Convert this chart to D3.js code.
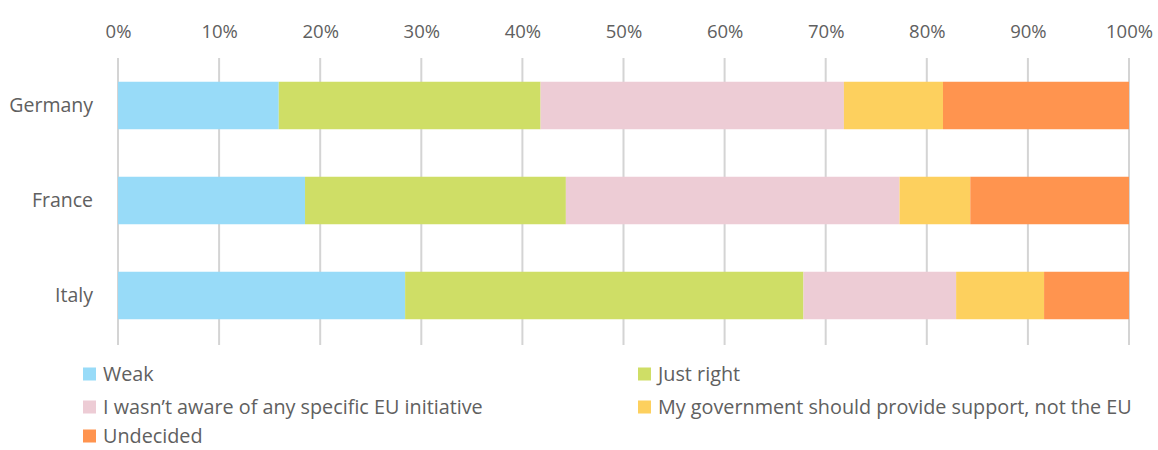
<!DOCTYPE html>
<html>
<head>
<meta charset="utf-8">
<script src="https://cdn.jsdelivr.net/npm/d3@7"></script>
<style>
  html, body { margin: 0; padding: 0; background: #fff; }
  svg { display: block; font-family: "Open Sans", "Lato", sans-serif; }
</style>
</head>
<body>
<svg id="chart" width="1158" height="450"></svg>
<script>
// Survey shares (%) per country, stacked left to right
const countries = ["Germany", "France", "Italy"];
const seriesNames = [
  "Weak",
  "Just right",
  "I wasn\u2019t aware of any specific EU initiative",
  "My government should provide support, not the EU",
  "Undecided"
];
const weak        = [15.9, 18.5, 28.4];
const justRight   = [25.9, 25.8, 39.4];
const notAware    = [30.0, 33.0, 15.1];
const govSupport  = [9.8, 7.0, 8.7];
const undecided   = [18.4, 15.7, 8.4];
const tickValues  = [0, 10, 20, 30, 40, 50, 60, 70, 80, 90, 100];
const colors = ["#98dbf8", "#cfde66", "#edccd5", "#fdd05e", "#ff944f"];

const seriesValues = [weak, justRight, notAware, govSupport, undecided];
const rows = countries.map((c, i) => {
  const row = { country: c };
  seriesNames.forEach((s, k) => { row[s] = seriesValues[k][i]; });
  return row;
});

const textColor = "#606060";
const svg = d3.select("#chart");
const x = d3.scaleLinear().domain([0, 100]).range([118, 1129]);
const y = d3.scaleBand().domain(countries).range([58, 343])
  .paddingInner(0.5).paddingOuter(0.25);

// vertical gridlines
svg.append("g")
  .selectAll("line")
  .data(tickValues)
  .join("line")
  .attr("x1", d => x(d)).attr("x2", d => x(d))
  .attr("y1", 58).attr("y2", 345)
  .attr("stroke", "#d4d4d4")
  .attr("stroke-width", 2);

// top axis labels
const axis = svg.append("g")
  .attr("transform", "translate(0,38)")
  .call(d3.axisTop(x).tickValues(tickValues).tickFormat(d => d + "%").tickSize(0).tickPadding(0));
axis.select(".domain").remove();
axis.selectAll("text")
  .attr("fill", textColor)
  .style("font-size", "18.5px")
  .style("font-family", "'Open Sans', Lato, sans-serif");

// stacked bars
const stack = d3.stack().keys(seriesNames);
const layers = stack(rows);
svg.append("g")
  .selectAll("g")
  .data(layers)
  .join("g")
  .attr("fill", (d, i) => colors[i])
  .selectAll("rect")
  .data(d => d)
  .join("rect")
  .attr("x", d => x(d[0]))
  .attr("width", d => x(d[1]) - x(d[0]))
  .attr("y", d => y(d.data.country))
  .attr("height", y.bandwidth());

// category labels
const yAxis = svg.append("g")
  .attr("transform", "translate(93,0)")
  .call(d3.axisLeft(y).tickSize(0).tickPadding(0));
yAxis.select(".domain").remove();
yAxis.selectAll("text")
  .attr("fill", textColor)
  .style("font-size", "19.5px")
  .style("font-family", "'Open Sans', Lato, sans-serif");

// legend
const legendPos = [
  [83, 374], [638, 374],
  [83, 407], [638, 407],
  [83, 436]
];
const legend = svg.append("g")
  .selectAll("g")
  .data(seriesNames)
  .join("g")
  .attr("transform", (d, i) => `translate(${legendPos[i][0]},${legendPos[i][1]})`);
legend.append("rect")
  .attr("x", 0).attr("y", -6.5)
  .attr("width", 13).attr("height", 13)
  .attr("fill", (d, i) => colors[i]);
legend.append("text")
  .attr("x", 20).attr("y", 0)
  .attr("dy", "0.35em")
  .attr("fill", textColor)
  .style("font-size", "19.8px")
  .text(d => d);
</script>
</body>
</html>
